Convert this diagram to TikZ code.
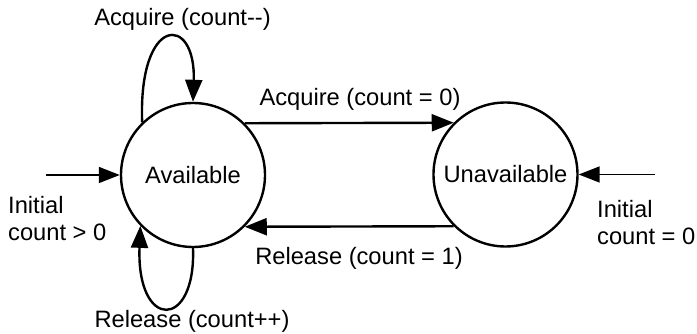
\documentclass[tikz,border=0pt]{standalone}
\usepackage{fontspec}
\setmainfont{Liberation Sans}
\usetikzlibrary{arrows.meta}
\begin{document}
\begin{tikzpicture}[x=1pt,y=1pt,
  state/.style={circle,draw,line width=2.4pt,minimum size=144pt,inner sep=0pt},
  conn/.style={line width=2.4pt,-{Triangle[length=22pt,width=17pt]}},
  init/.style={line width=1.6pt,-{Triangle[length=21pt,width=16pt]}},
  lab/.style={inner sep=0pt},
  every node/.style={font=\fontsize{23.7}{26.5}\selectfont}]
\useasboundingbox (0,0) rectangle (697,334);
\node[state] (A) at (193,159) {Available};
\node[state] (U) at (505.5,159.5) {Unavailable};
\coordinate (iA) at (46,159);
\coordinate (iU) at (655,159.5);
\draw[init] (iA) -- (A.west);
\draw[init] (iU) -- (U.east);
\draw[conn] (A.45) -- (U.135);
\draw[conn] (U.225) -- (A.-45);
\draw[conn] (A.134) .. controls +(-4,108) and +(3,88) .. (A.90);
\draw[conn] (A.270) .. controls +(3,-82) and +(-4,-105) .. (A.224);
\node[lab,anchor=base] (l1) at (182.5,308) {Acquire (count\mbox{-}\mbox{-})};
\node[lab,anchor=base] (l2) at (192,6) {Release (count++)};
\node[lab,anchor=base] (l3) at (360,228) {Acquire (count = 0)};
\node[lab,anchor=base] (l4) at (359,69) {Release (count = 1)};
\node[lab,anchor=west,align=left] (l5) at (8,115.5) {Initial\\count > 0};
\node[lab,anchor=west,align=left] (l6) at (597,111.5) {Initial\\count = 0};
\end{tikzpicture}
\end{document}
